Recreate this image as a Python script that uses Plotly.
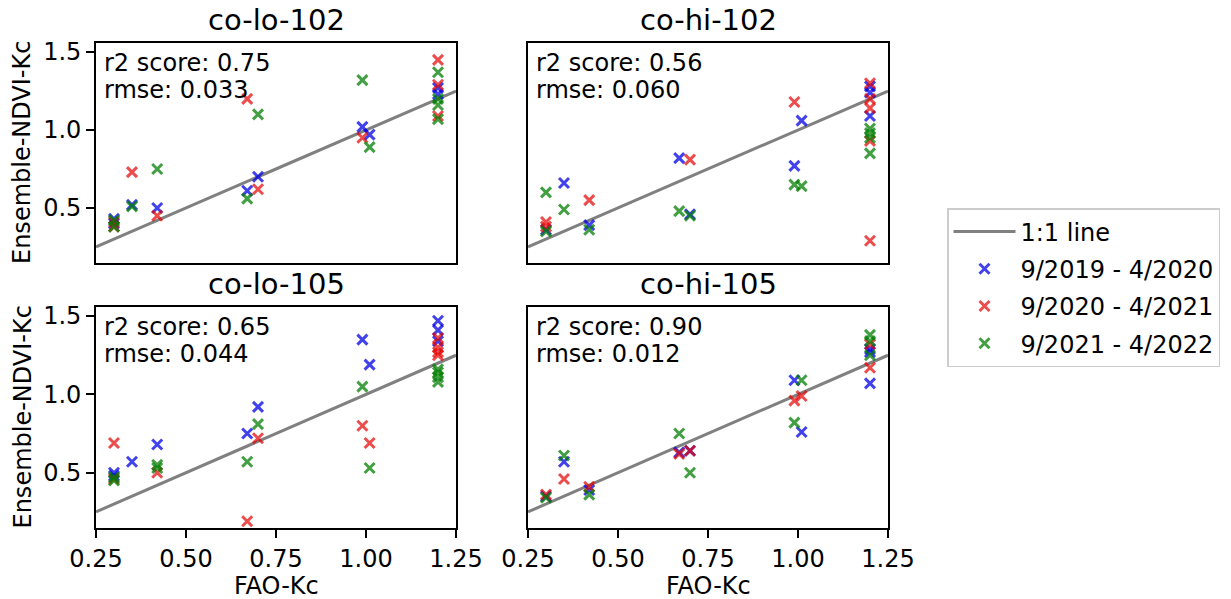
import plotly.graph_objects as go

# ---- data -------------------------------------------------------------
panel_names = ["co-lo-102", "co-hi-102", "co-lo-105", "co-hi-105"]
r2_scores = [0.75, 0.56, 0.65, 0.90]
rmse_values = [0.033, 0.060, 0.044, 0.012]

season_names = ["9/2019 - 4/2020", "9/2020 - 4/2021", "9/2021 - 4/2022"]

# co-lo-102
lo102_x_2019 = [0.30, 0.30, 0.35, 0.42, 0.67, 0.70, 0.99, 1.01, 1.20, 1.20]
lo102_y_2019 = [0.43, 0.40, 0.52, 0.50, 0.61, 0.70, 1.02, 0.97, 1.27, 1.23]
lo102_x_2020 = [0.30, 0.30, 0.35, 0.42, 0.67, 0.70, 0.99, 1.20, 1.20, 1.20]
lo102_y_2020 = [0.41, 0.38, 0.73, 0.45, 1.20, 0.62, 0.95, 1.45, 1.29, 1.09]
lo102_x_2021 = [0.30, 0.30, 0.35, 0.42, 0.67, 0.70, 0.99, 1.01, 1.20, 1.20, 1.20, 1.20]
lo102_y_2021 = [0.42, 0.38, 0.51, 0.75, 0.56, 1.10, 1.32, 0.89, 1.37, 1.20, 1.16, 1.07]

# co-hi-102
hi102_x_2019 = [0.30, 0.35, 0.42, 0.67, 0.70, 0.99, 1.01, 1.20, 1.20, 1.20]
hi102_y_2019 = [0.36, 0.66, 0.39, 0.82, 0.46, 0.77, 1.06, 1.28, 1.24, 1.09]
hi102_x_2020 = [0.30, 0.30, 0.42, 0.70, 0.99, 1.20, 1.20, 1.20, 1.20, 1.20]
hi102_y_2020 = [0.41, 0.38, 0.55, 0.81, 1.18, 1.30, 1.20, 1.14, 0.93, 0.29]
hi102_x_2021 = [0.30, 0.30, 0.35, 0.42, 0.67, 0.70, 0.99, 1.01, 1.20, 1.20, 1.20, 1.20]
hi102_y_2021 = [0.60, 0.35, 0.49, 0.36, 0.48, 0.45, 0.65, 0.64, 1.01, 0.98, 0.95, 0.85]

# co-lo-105
lo105_x_2019 = [0.30, 0.30, 0.35, 0.42, 0.67, 0.70, 0.99, 1.01, 1.20, 1.20, 1.20]
lo105_y_2019 = [0.50, 0.48, 0.57, 0.68, 0.75, 0.92, 1.35, 1.19, 1.47, 1.41, 1.34]
lo105_x_2020 = [0.30, 0.30, 0.42, 0.67, 0.70, 0.99, 1.01, 1.20, 1.20, 1.20, 1.20]
lo105_y_2020 = [0.69, 0.46, 0.50, 0.19, 0.72, 0.80, 0.69, 1.36, 1.30, 1.27, 1.25]
lo105_x_2021 = [0.30, 0.30, 0.42, 0.42, 0.67, 0.70, 0.99, 1.01, 1.20, 1.20, 1.20, 1.20]
lo105_y_2021 = [0.47, 0.45, 0.55, 0.53, 0.57, 0.81, 1.05, 0.53, 1.16, 1.14, 1.11, 1.08]

# co-hi-105
hi105_x_2019 = [0.30, 0.35, 0.42, 0.67, 0.70, 0.99, 1.01, 1.20, 1.20, 1.20]
hi105_y_2019 = [0.35, 0.57, 0.39, 0.63, 0.64, 1.09, 0.76, 1.29, 1.27, 1.07]
hi105_x_2020 = [0.30, 0.35, 0.42, 0.67, 0.70, 0.99, 1.01, 1.20, 1.20]
hi105_y_2020 = [0.36, 0.46, 0.41, 0.62, 0.64, 0.96, 0.99, 1.32, 1.17]
hi105_x_2021 = [0.30, 0.35, 0.42, 0.67, 0.70, 0.99, 1.01, 1.20, 1.20, 1.20]
hi105_y_2021 = [0.34, 0.61, 0.36, 0.75, 0.50, 0.82, 1.09, 1.38, 1.34, 1.25]

one_to_one = [0.25, 1.25]
x_ticks = [0.25, 0.50, 0.75, 1.00, 1.25]
y_ticks = [0.5, 1.0, 1.5]

panels = [
    [(lo102_x_2019, lo102_y_2019), (lo102_x_2020, lo102_y_2020), (lo102_x_2021, lo102_y_2021)],
    [(hi102_x_2019, hi102_y_2019), (hi102_x_2020, hi102_y_2020), (hi102_x_2021, hi102_y_2021)],
    [(lo105_x_2019, lo105_y_2019), (lo105_x_2020, lo105_y_2020), (lo105_x_2021, lo105_y_2021)],
    [(hi105_x_2019, hi105_y_2019), (hi105_x_2020, hi105_y_2020), (hi105_x_2021, hi105_y_2021)],
]

# ---- styling ----------------------------------------------------------
W, H = 1231, 599
FONT = "DejaVu Sans"
FS = 24
season_colors = ["rgba(0,0,230,0.74)", "rgba(230,0,0,0.70)", "rgba(0,125,0,0.74)"]

# panel boxes in pixels: (left, right, top, bottom)
boxes = [(96, 456, 43, 263), (528, 888, 43, 263),
         (96, 456, 307, 528), (528, 888, 307, 528)]

def px(x):
    return x / W

def py(y):
    return 1 - y / H

fig = go.Figure()

for i, series in enumerate(panels):
    xa = "x" if i == 0 else f"x{i+1}"
    ya = "y" if i == 0 else f"y{i+1}"
    fig.add_trace(go.Scatter(
        x=one_to_one, y=one_to_one, mode="lines",
        line=dict(color="#808080", width=3),
        name="1:1 line", legendgroup="line", showlegend=(i == 0),
        xaxis=xa, yaxis=ya, cliponaxis=False,
    ))
    for k, (xs, ys) in enumerate(series):
        fig.add_trace(go.Scatter(
            x=xs, y=ys, mode="markers",
            marker=dict(symbol="x-thin", size=10,
                        line=dict(color=season_colors[k], width=3)),
            name=season_names[k], legendgroup=f"s{k}", showlegend=(i == 0),
            xaxis=xa, yaxis=ya, cliponaxis=False,
        ))

layout = dict(
    template="none",
    width=W, height=H, autosize=False,
    margin=dict(l=0, r=0, t=0, b=0, pad=0, autoexpand=False),
    plot_bgcolor="white", paper_bgcolor="white",
    font=dict(family=FONT, size=FS, color="black"),
    showlegend=True,
    legend=dict(
        x=px(947), y=py(208), xanchor="left", yanchor="top",
        bordercolor="#cccccc", borderwidth=1.5, bgcolor="white",
        font=dict(family=FONT, size=FS), tracegroupgap=3, itemwidth=62,
    ),
)

annotations = []
for i, (l, r, t, b) in enumerate(boxes):
    suffix = "" if i == 0 else str(i + 1)
    bottom_row = i >= 2
    left_col = i % 2 == 0
    layout["xaxis" + suffix] = dict(
        domain=[px(l), px(r)], range=[0.25, 1.25], anchor="y" + suffix,
        tickvals=x_ticks, tickformat=".2f", automargin=False,
        showticklabels=bottom_row, ticks="outside" if bottom_row else "",
        ticklen=8, tickwidth=1.8, tickcolor="black",
        showline=True, linecolor="black", linewidth=1.8, mirror=True,
        showgrid=False, zeroline=False,
        tickfont=dict(family=FONT, size=FS),
    )
    layout["yaxis" + suffix] = dict(
        domain=[py(b), py(t)], range=[0.147, 1.558], anchor="x" + suffix,
        tickvals=y_ticks, tickformat=".1f", automargin=False,
        showticklabels=left_col, ticks="outside" if left_col else "",
        ticklen=8, tickwidth=1.8, tickcolor="black",
        showline=True, linecolor="black", linewidth=1.8, mirror=True,
        showgrid=False, zeroline=False,
        tickfont=dict(family=FONT, size=FS),
    )
    cx = (l + r) / 2
    # panel title
    annotations.append(dict(
        text=panel_names[i], x=px(cx), y=py(t - 23), xref="paper", yref="paper",
        xanchor="center", yanchor="middle", showarrow=False,
        font=dict(family=FONT, size=29, color="black"),
    ))
    # score text
    annotations.append(dict(
        text=f"r2 score: {r2_scores[i]:.2f}", x=px(l + 6), y=py(t + 20),
        xref="paper", yref="paper", xanchor="left", yanchor="middle",
        showarrow=False, font=dict(family=FONT, size=FS, color="black"),
    ))
    annotations.append(dict(
        text=f"rmse: {rmse_values[i]:.3f}", x=px(l + 6), y=py(t + 47),
        xref="paper", yref="paper", xanchor="left", yanchor="middle",
        showarrow=False, font=dict(family=FONT, size=FS, color="black"),
    ))
    if left_col:
        annotations.append(dict(
            text="Ensemble-NDVI-Kc", x=px(22), y=py((t + b) / 2),
            xref="paper", yref="paper", xanchor="center", yanchor="middle",
            textangle=-90, showarrow=False,
            font=dict(family=FONT, size=FS, color="black"),
        ))
    if bottom_row:
        annotations.append(dict(
            text="FAO-Kc", x=px(cx), y=py(586),
            xref="paper", yref="paper", xanchor="center", yanchor="middle",
            showarrow=False, font=dict(family=FONT, size=FS, color="black"),
        ))

layout["annotations"] = annotations
fig.update_layout(**layout)

fig.write_html("out.html")
